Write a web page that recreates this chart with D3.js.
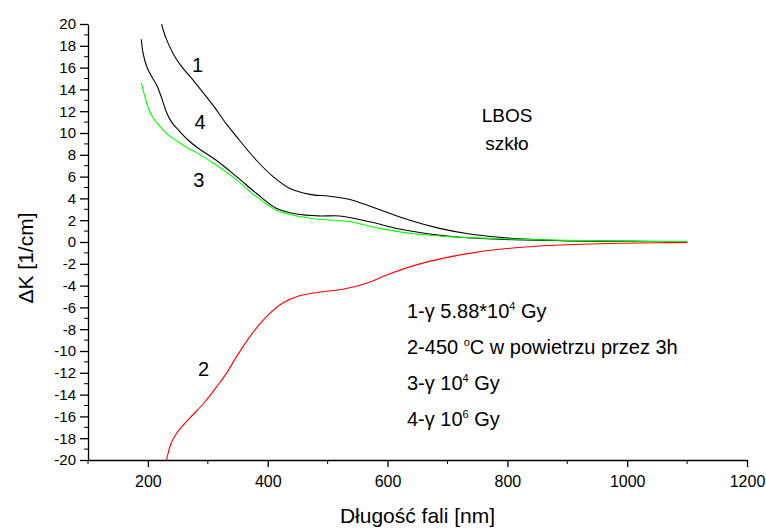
<!DOCTYPE html>
<html>
<head>
<meta charset="utf-8">
<script src="https://cdn.jsdelivr.net/npm/d3@7"></script>
<style>
  body { margin: 0; background: #fff; }
  svg text { font-family: Arial, "Liberation Sans", sans-serif; fill: #000; }
</style>
</head>
<body>
<svg id="chart" width="766" height="529"></svg>
<script>
// Induced absorption ΔK [1/cm] vs wavelength [nm], LBOS glass
// Each curve: [wavelength nm, ΔK]
const curve1 = [[223,20],[225.5,19.45],[234,18.2],[245,17.0],[259,15.9],[275.5,14.86],[295,13.5],[312,12.3],[330,10.9],[348,9.66],[381,7.5],[409,6.0],[437,4.9],[470,4.37],[503,4.2],[537,3.9],[570,3.3],[600,2.7],[637,2.0],[687,1.25],[737,0.73],[787,0.43],[837,0.25],[887,0.14],[950,0.08],[1000,0.06],[1100,0.04]];
const curve2 = [[231,-20],[234.2,-19.27],[238.3,-18.53],[245,-17.8],[255,-17.06],[270,-16.15],[295,-14.68],[317,-13.12],[331,-12.05],[348,-10.52],[370,-8.7],[398,-6.85],[425,-5.6],[453,-4.93],[492,-4.56],[525,-4.34],[564,-3.8],[603,-2.94],[648,-2.1],[692,-1.5],[737,-1.04],[787,-0.67],[837,-0.43],[887,-0.28],[937,-0.18],[987,-0.12],[1050,-0.07],[1100,-0.04]];
const curve3 = [[189,14.6],[195,13.3],[200.5,12.3],[209,11.35],[220,10.6],[234,9.8],[250.5,9.2],[267,8.6],[281,8.2],[314,7.06],[348,5.7],[381,4.16],[414,2.94],[448,2.39],[487,2.08],[537,1.86],[587,1.25],[637,0.8],[687,0.55],[737,0.4],[820,0.25],[900,0.15],[1000,0.08],[1100,0.04]];
const curve4 = [[189,18.6],[192,17.3],[198,16.1],[206,15.2],[214.5,14.4],[223,13.2],[231,11.9],[239.5,11.0],[250.5,10.3],[267,9.36],[284,8.6],[314,7.5],[348,6.0],[381,4.47],[414,3.1],[448,2.57],[487,2.39],[520,2.39],[570,1.86],[620,1.19],[670,0.73],[720,0.43],[787,0.25],[900,0.12],[1000,0.06],[1100,0.03]];

const xTicks = [200, 400, 600, 800, 1000, 1200];
const xMinor = [100, 300, 500, 700, 900, 1100];
const yTicks = d3.range(-20, 21, 2);
const yMinor = d3.range(-19, 20, 2);

const series = [
  { data: curve1, color: "#000000" },
  { data: curve4, color: "#000000" },
  { data: curve3, color: "#00ff00" },
  { data: curve2, color: "#ff0000" }
];

const curveLabels = [
  { text: "1", nm: 283, k: 15.6 },
  { text: "4", nm: 287, k: 10.4 },
  { text: "3", nm: 285, k: 5.05 },
  { text: "2", nm: 293, k: -12.3 }
];

const legendLines = [
  ["1-\u03b3 5.88*10", "4", " Gy"],
  ["2-450 ", "o", "C w powietrzu przez 3h"],
  ["3-\u03b3 10", "4", " Gy"],
  ["4-\u03b3 10", "6", " Gy"]
];

const svg = d3.select("#chart");
const x = d3.scaleLinear().domain([100, 1200]).range([88, 747]);
const y = d3.scaleLinear().domain([-20, 20]).range([460, 24]);
const font = "Arial, 'Liberation Sans', sans-serif";

// axes
const xAxis = svg.append("g").attr("transform", `translate(0,${y(-20)})`)
  .call(d3.axisBottom(x).tickValues(xTicks).tickSize(7).tickPadding(9).tickSizeOuter(0)
    .tickFormat(d3.format("d")));
xAxis.append("g").selectAll("line").data(xMinor).join("line")
  .attr("x1", d => x(d)).attr("x2", d => x(d)).attr("y1", 0).attr("y2", 4).attr("stroke", "#000");

const yAxis = svg.append("g").attr("transform", `translate(${x(100)},0)`)
  .call(d3.axisLeft(y).tickValues(yTicks).tickSize(8).tickPadding(4).tickSizeOuter(0)
    .tickFormat(d => d < 0 ? "-" + Math.abs(d) : d));
yAxis.append("g").selectAll("line").data(yMinor).join("line")
  .attr("y1", d => y(d)).attr("y2", d => y(d)).attr("x1", 0).attr("x2", -4).attr("stroke", "#000");

svg.selectAll(".domain").attr("stroke", "#000").attr("stroke-width", 1.3);
svg.selectAll(".tick line").attr("stroke", "#000").attr("stroke-width", 1.3);
xAxis.selectAll("text").attr("font-size", 16).style("font-family", font);
yAxis.selectAll("text").attr("font-size", 15).style("font-family", font);

// axis titles
svg.append("text").attr("x", (x(100) + x(1200)) / 2).attr("y", 523)
  .attr("text-anchor", "middle").attr("font-size", 21).text("D\u0142ugo\u015b\u0107 fali [nm]");
svg.append("text").attr("transform", `translate(33,${(y(-20) + y(20)) / 2 + 16}) rotate(-90)`)
  .attr("text-anchor", "middle").attr("font-size", 21).text("\u0394K [1/cm]");

// curves
const line = d3.line().x(d => x(d[0])).y(d => y(d[1])).curve(d3.curveCatmullRom.alpha(0.5));
svg.append("g").selectAll("path").data(series).join("path")
  .attr("d", d => line(d.data)).attr("fill", "none")
  .attr("stroke", d => d.color).attr("stroke-width", 1.1);

// curve numbers
svg.append("g").selectAll("text").data(curveLabels).join("text")
  .attr("x", d => x(d.nm)).attr("y", d => y(d.k))
  .attr("text-anchor", "middle").attr("font-size", 20).text(d => d.text);

// sample name
svg.append("text").attr("x", 507).attr("y", 122).attr("text-anchor", "middle").attr("font-size", 19).text("LBOS");
svg.append("text").attr("x", 507).attr("y", 150).attr("text-anchor", "middle").attr("font-size", 19).text("szk\u0142o");

// legend
const leg = svg.append("g").selectAll("text").data(legendLines).join("text")
  .attr("x", 407).attr("y", (d, i) => 318 + i * 36).attr("font-size", 20);
leg.append("tspan").text(d => d[0]);
leg.append("tspan").attr("dy", -8).attr("font-size", 11).text(d => d[1]);
leg.append("tspan").attr("dy", 8).text(d => d[2]);
</script>
</body>
</html>
